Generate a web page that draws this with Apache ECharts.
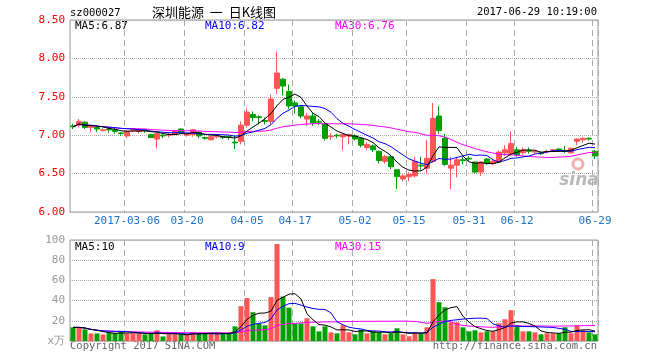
<!DOCTYPE html>
<html><head><meta charset="utf-8">
<script src="https://cdn.jsdelivr.net/npm/echarts@6/dist/echarts.min.js"></script>
<style>html,body{margin:0;padding:0;background:#fff}#c{width:660px;height:360px}</style>
</head><body><div id="c"></div>
<script>
const dates = ['2017-02-21','2017-02-22','2017-02-23','2017-02-24','2017-02-27','2017-02-28',
'2017-03-01','2017-03-02','2017-03-03','2017-03-06','2017-03-07','2017-03-08','2017-03-09','2017-03-10',
'2017-03-13','2017-03-14','2017-03-15','2017-03-16','2017-03-17','2017-03-20','2017-03-21','2017-03-22','2017-03-23','2017-03-24',
'2017-03-27','2017-03-28','2017-03-29','2017-03-30','2017-03-31','2017-04-05','2017-04-06','2017-04-07',
'2017-04-10','2017-04-11','2017-04-12','2017-04-13','2017-04-14','2017-04-17','2017-04-18','2017-04-19','2017-04-20','2017-04-21',
'2017-04-24','2017-04-25','2017-04-26','2017-04-27','2017-04-28','2017-05-02','2017-05-03','2017-05-04','2017-05-05',
'2017-05-08','2017-05-09','2017-05-10','2017-05-11','2017-05-12','2017-05-15','2017-05-16','2017-05-17','2017-05-18','2017-05-19',
'2017-05-22','2017-05-23','2017-05-24','2017-05-25','2017-05-26','2017-05-31','2017-06-01','2017-06-02',
'2017-06-05','2017-06-06','2017-06-07','2017-06-08','2017-06-09','2017-06-12','2017-06-13','2017-06-14','2017-06-15','2017-06-16',
'2017-06-19','2017-06-20','2017-06-21','2017-06-22','2017-06-23','2017-06-26','2017-06-27','2017-06-28','2017-06-29'];

const opens  = [7.12,7.13,7.17,7.10,7.10,7.06,7.08,7.07,7.03,6.99,7.06,7.05,7.07,7.01,6.95,7.00,7.00,7.01,7.08,7.00,
7.01,7.04,6.97,6.94,6.98,6.98,6.98,6.91,6.92,7.13,7.27,7.24,7.19,7.18,7.61,7.73,7.57,7.42,7.37,7.21,
7.25,7.18,7.15,6.98,7.00,6.98,6.99,6.99,6.96,6.84,6.86,6.79,6.66,6.72,6.55,6.43,6.46,6.47,6.61,6.57,
6.66,7.25,6.96,6.57,6.61,6.68,6.70,6.65,6.52,6.69,6.63,6.65,6.77,6.76,6.81,6.77,6.80,6.78,6.77,6.78,
6.79,6.82,6.80,6.77,6.92,6.94,6.96,6.79];
const closes = [7.11,7.18,7.10,7.12,7.08,7.07,7.07,7.05,7.02,7.05,7.08,7.07,7.06,6.97,7.02,6.99,7.01,7.05,7.03,7.01,
7.07,6.99,6.96,6.98,6.99,6.97,6.97,6.90,7.13,7.30,7.23,7.23,7.18,7.47,7.81,7.64,7.38,7.38,7.25,7.25,
7.16,7.17,6.96,6.99,6.99,7.01,7.01,6.95,6.87,6.88,6.81,6.67,6.72,6.59,6.46,6.47,6.49,6.66,6.60,6.70,
7.22,7.06,6.62,6.61,6.68,6.67,6.69,6.52,6.65,6.63,6.66,6.78,6.81,6.89,6.74,6.81,6.79,6.79,6.76,6.79,
6.81,6.80,6.79,6.83,6.95,6.96,6.95,6.73];
const lows   = [7.08,7.10,7.08,7.04,7.04,7.05,7.03,7.02,6.99,6.96,7.04,7.02,7.03,6.96,6.83,6.96,6.97,7.00,7.02,6.98,
6.98,6.96,6.94,6.94,6.96,6.95,6.94,6.82,6.88,7.10,7.18,7.14,7.14,7.14,7.54,7.52,7.34,7.28,7.22,7.12,
7.12,7.13,6.93,6.94,6.96,6.80,6.88,6.93,6.84,6.81,6.78,6.63,6.63,6.56,6.30,6.40,6.40,6.45,6.55,6.50,
6.64,7.02,6.60,6.30,6.45,6.62,6.66,6.50,6.47,6.61,6.61,6.64,6.73,6.73,6.72,6.75,6.76,6.76,6.74,6.76,
6.78,6.78,6.77,6.76,6.87,6.90,6.93,6.69];
const highs  = [7.15,7.21,7.18,7.13,7.11,7.09,7.10,7.10,7.04,7.06,7.09,7.09,7.08,7.02,7.03,7.02,7.04,7.06,7.09,7.03,
7.08,7.05,6.98,6.99,7.00,6.99,7.00,7.00,7.18,7.35,7.31,7.26,7.23,7.53,8.09,7.74,7.66,7.45,7.39,7.29,
7.29,7.21,7.16,7.03,7.02,7.02,7.02,7.01,6.97,6.91,6.88,6.80,6.74,6.74,6.55,6.49,6.52,6.72,6.72,6.94,
7.42,7.38,7.02,6.72,6.72,6.72,6.73,6.66,6.66,6.70,6.68,6.80,6.87,7.05,6.85,6.84,6.84,6.80,6.79,6.81,
6.82,6.83,6.86,6.84,6.96,6.97,6.97,6.81];
const volumes = [13.5,13.5,11.5,7.5,7.5,6.5,8.5,8,9,7.5,7.5,7.5,6.5,7.5,10.5,4.5,6.5,6.5,6.5,6.5,
9,7.5,7.5,7.5,7.5,7.5,7.5,14.5,34.5,42.5,28.5,17.5,15.5,43.5,96,44,33,17.5,17.5,22.5,
14.5,9.5,14.5,8.6,7.6,15.6,8.6,6.6,11.3,7.6,9.6,8.6,6.6,7.6,12.6,6.6,4.6,7.6,7.6,13.6,
61.3,38.4,33.4,18.5,18.5,13.6,9.6,10.6,8.6,9.6,9.6,17.5,21.5,30.5,15.6,9.6,9.6,8.6,6.6,7.6,
7.6,7.6,13.6,7.6,15.6,10.6,8.6,6.6];

const labelDates = ['2017-03-06','2017-03-20','2017-04-05','2017-04-17','2017-05-02','2017-05-15','2017-05-31','2017-06-12','2017-06-29'];
const labelTexts = ['2017-03-06','03-20','04-05','04-17','05-02','05-15','05-31','06-12','06-29'];
const priceTicks = {min: 6.0, max: 8.5, step: 0.5};
const volTicks = {min: 0, max: 100, step: 20};

const UP = '#ff5555', DOWN = '#00a000';
const MONO = '"DejaVu Sans Mono", monospace';

function ma(arr, n) {
  return arr.map((v, i) => {
    const s = Math.max(0, i - n + 1);
    let sum = 0; for (let k = s; k <= i; k++) sum += arr[k];
    return +(sum / (i - s + 1)).toFixed(3);
  });
}
const kdata = dates.map((d, i) => [opens[i], closes[i], lows[i], highs[i]]);
const labelMap = {}; labelDates.forEach((d, i) => labelMap[d] = labelTexts[i]);
const showIdx = (i, v) => labelMap[dates[i]] !== undefined;

const splitX = {show: true, interval: showIdx, lineStyle: {color: '#aaa', type: [6, 4], width: 1}};
const chart = echarts.init(document.getElementById('c'));
const mkMA = (name, data, color, xi, yi) => ({name, type: 'line', data, xAxisIndex: xi, yAxisIndex: yi,
  showSymbol: false, symbol: 'none', lineStyle: {color, width: 1}, itemStyle: {color}, silent: true, z: 5});

const txt = (x, y, t, fill, extra, size) => ({type: 'text', x, y,
  style: Object.assign({text: t, fill, font: (size || 11) + 'px ' + MONO, textVerticalAlign: 'middle'}, extra || {})});

chart.setOption({
  animation: false,
  backgroundColor: '#fff',
  grid: [
    {left: 70, top: 20, width: 528, height: 192, show: true, borderColor: '#999', borderWidth: 1},
    {left: 70, top: 240, width: 528, height: 101, show: true, borderColor: '#999', borderWidth: 1}
  ],
  xAxis: [
    {type: 'category', gridIndex: 0, data: dates, boundaryGap: true,
     axisLine: {show: false}, axisTick: {show: false},
     axisLabel: {interval: showIdx, formatter: v => labelMap[v], color: '#1a73c8', fontFamily: MONO, fontSize: 11, margin: 4},
     splitLine: splitX},
    {type: 'category', gridIndex: 1, data: dates, boundaryGap: true,
     axisLine: {show: false}, axisTick: {show: false}, axisLabel: {show: false},
     splitLine: splitX}
  ],
  yAxis: [
    {type: 'value', gridIndex: 0, min: priceTicks.min, max: priceTicks.max, interval: priceTicks.step,
     axisLine: {show: false}, axisTick: {show: false},
     axisLabel: {color: '#ff0000', fontFamily: MONO, fontSize: 11, margin: 5, formatter: v => v.toFixed(2)},
     splitLine: {show: true, lineStyle: {color: '#aaa', type: 'dotted'}}},
    {type: 'value', gridIndex: 1, min: volTicks.min, max: volTicks.max, interval: volTicks.step,
     axisLine: {show: false}, axisTick: {show: false},
     axisLabel: {color: '#999', fontFamily: MONO, fontSize: 11, margin: 5, formatter: v => v === 0 ? 'x万' : String(v)},
     splitLine: {show: true, lineStyle: {color: '#aaa', type: 'dotted'}}}
  ],
  series: [
    {type: 'candlestick', data: kdata, xAxisIndex: 0, yAxisIndex: 0, barWidth: 5,
     itemStyle: {color: UP, color0: DOWN, borderColor: UP, borderColor0: DOWN, borderWidth: 1}},
    mkMA('MA30', ma(closes, 30), '#ff00ff', 0, 0),
    mkMA('MA10', ma(closes, 10), '#0000ff', 0, 0),
    mkMA('MA5', ma(closes, 5), '#000000', 0, 0),
    {type: 'bar', data: volumes, xAxisIndex: 1, yAxisIndex: 1, barWidth: 5,
     itemStyle: {color: p => closes[p.dataIndex] >= opens[p.dataIndex] ? UP : DOWN}},
    mkMA('VMA30', ma(volumes, 30), '#ff00ff', 1, 1),
    mkMA('VMA10', ma(volumes, 10), '#0000ff', 1, 1),
    mkMA('VMA5', ma(volumes, 5), '#000000', 1, 1)
  ],
  graphic: [
    txt(70, 13, 'sz000027', '#000', null, 10.5),
    {type: 'text', x: 214, y: 12, style: {text: '深圳能源  一  日K线图', fill: '#000', font: '13px "Noto Sans CJK SC"', textAlign: 'center', textVerticalAlign: 'middle'}},
    txt(597, 12, '2017-06-29 10:19:00', '#000', {textAlign: 'right'}, 10.5),
    txt(75, 26, 'MA5:6.87', '#000'),
    txt(205, 26, 'MA10:6.82', '#0000ff'),
    txt(335, 26, 'MA30:6.76', '#ff00ff'),
    txt(75, 247, 'MA5:10', '#000'),
    txt(205, 247, 'MA10:9', '#0000ff'),
    txt(335, 247, 'MA30:15', '#ff00ff'),
    txt(70, 346, 'Copyright 2017 SINA.COM', '#666', null, 10.5),
    txt(597, 346, 'http://finance.sina.com.cn', '#666', {textAlign: 'right'}, 10.5),
    {type: 'circle', shape: {cx: 578, cy: 164, r: 5}, style: {fill: 'none', stroke: '#f3b0b0', lineWidth: 3}, z: 1},
    {type: 'text', x: 579, y: 181, z: 1, style: {text: 'sina', fill: '#b8b8b8', font: 'italic bold 17px "DejaVu Sans"', textAlign: 'center', textVerticalAlign: 'middle'}}
  ]
});
</script></body></html>
